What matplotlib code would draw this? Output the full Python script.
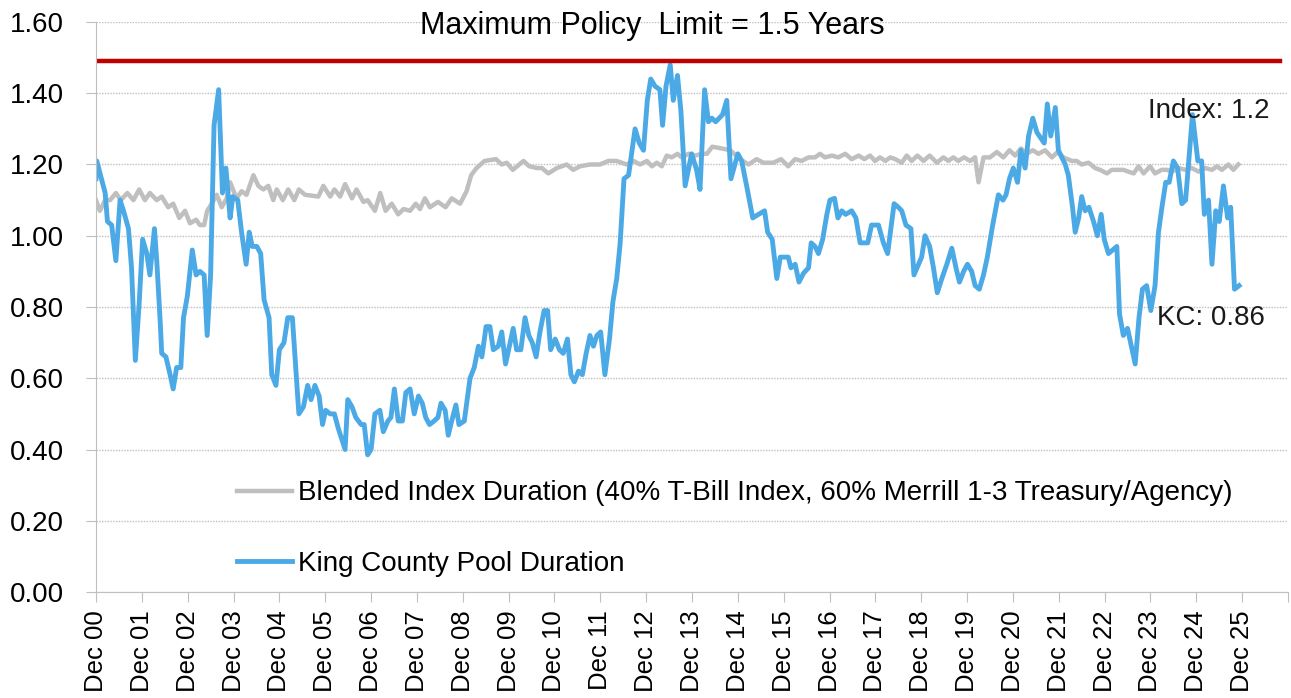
import matplotlib
matplotlib.use("Agg")
import matplotlib.pyplot as plt

# months counted from Dec 2000
kc_months = [0.0, 0.2, 2.4, 3.0, 4.1, 5.2, 6.3, 7.2, 8.5, 9.3, 10.3, 11.3, 12.2, 13.3, 14.1, 15.3, 15.9,
             16.8, 17.2, 18.3, 19.4, 20.2, 21.1, 22.2, 22.9, 23.9, 25.2, 26.2, 27.2, 28.3, 29.1, 30.0,
             30.9, 32.1, 33.1, 34.0, 35.1, 35.8, 37.1, 38.1, 39.3, 40.1, 40.9, 42.1, 43.1, 44.0, 45.3,
             46.0, 47.1, 48.0, 49.2, 50.2, 51.4, 53.1, 54.3, 55.4, 56.3, 57.3, 58.4, 59.3, 60.1, 61.3,
             62.4, 63.4, 65.2, 65.9, 67.0, 68.0, 69.4, 70.2, 71.1, 72.0, 73.0, 74.3, 75.2, 76.4, 77.2,
             78.1, 79.1, 80.2, 81.1, 82.2, 83.3, 84.4, 85.4, 86.3, 87.3, 88.5, 89.5, 90.3, 91.4, 92.2,
             93.1, 94.2, 95.0, 96.4, 97.9, 99.0, 100.1, 101.0, 102.1, 103.1, 104.0, 105.3, 106.2, 107.2,
             108.2, 109.2, 110.1, 111.2, 112.3, 113.3, 114.2, 115.2, 116.2, 117.3, 118.2, 119.0, 120.2,
             121.3, 122.3, 123.4, 124.3, 125.2, 126.3, 127.3, 128.3, 129.3, 130.2, 131.1, 132.1, 133.2,
             134.4, 135.3, 136.3, 137.2, 138.2, 139.4, 141.1, 142.2, 143.3, 144.3, 145.2, 146.3, 147.6,
             148.3, 149.2, 150.3, 151.1, 152.2, 153.1, 154.2, 155.9, 157.2, 158.1, 159.3, 160.3, 161.2,
             162.2, 164.0, 165.1, 166.2, 168.0, 169.0, 170.3, 171.9, 173.4, 175.0, 175.8, 177.0, 178.2,
             179.1, 180.4, 181.2, 181.9, 183.0, 184.0, 185.2, 186.5, 187.2, 188.2, 189.1, 190.2, 191.3,
             192.1, 193.3, 194.2, 195.2, 196.2, 197.8, 198.9, 200.0, 202.0, 203.0, 204.8, 206.1, 207.2,
             208.9, 210.0, 210.9, 212.0, 213.3, 214.1, 215.3, 216.1, 217.0, 218.2, 219.2, 220.2, 221.4,
             222.7, 224.0, 225.1, 226.0, 227.1, 228.1, 229.2, 230.1, 231.2, 232.3, 233.3, 234.7, 236.2,
             237.4, 238.2, 239.1, 240.1, 241.2, 242.1, 243.2, 244.1, 245.2, 246.3, 248.2, 249.0, 249.9,
             251.1, 251.9, 253.7, 254.5, 255.6, 256.3, 257.2, 258.0, 258.9, 259.9, 261.1, 262.1, 263.1,
             263.9, 265.0, 267.2, 267.9, 268.9, 270.0, 272.0, 273.0, 273.9, 275.0, 276.1, 277.2, 278.1,
             279.0, 280.0, 280.9, 282.0, 283.1, 284.2, 285.2, 286.1, 287.0, 288.4, 289.4, 290.1, 291.2,
             292.1, 293.1, 294.0, 295.1, 296.2, 297.0, 298.0, 299.2]
kc_duration = [1.16, 1.21, 1.12, 1.04, 1.03, 0.93, 1.10, 1.07, 1.02, 0.91, 0.65, 0.81, 0.99, 0.95, 0.89, 1.02, 0.93,
               0.76, 0.67, 0.66, 0.61, 0.57, 0.63, 0.63, 0.77, 0.83, 0.96, 0.89, 0.90, 0.89, 0.72, 0.89,
               1.31, 1.41, 1.12, 1.19, 1.05, 1.11, 1.10, 1.01, 0.92, 1.01, 0.97, 0.97, 0.95, 0.82, 0.77,
               0.61, 0.58, 0.68, 0.70, 0.77, 0.77, 0.50, 0.52, 0.58, 0.54, 0.58, 0.55, 0.47, 0.51, 0.50,
               0.50, 0.46, 0.40, 0.54, 0.52, 0.49, 0.47, 0.47, 0.385, 0.40, 0.50, 0.51, 0.45, 0.48, 0.49,
               0.57, 0.48, 0.48, 0.56, 0.57, 0.50, 0.55, 0.53, 0.49, 0.47, 0.48, 0.49, 0.53, 0.51, 0.44,
               0.48, 0.525, 0.47, 0.48, 0.60, 0.63, 0.69, 0.66, 0.745, 0.745, 0.68, 0.69, 0.73, 0.64,
               0.69, 0.74, 0.68, 0.68, 0.77, 0.72, 0.70, 0.66, 0.73, 0.79, 0.79, 0.68, 0.71,
               0.68, 0.67, 0.71, 0.61, 0.59, 0.62, 0.61, 0.67, 0.72, 0.69, 0.72, 0.73, 0.61,
               0.71, 0.815, 0.88, 0.98, 1.16, 1.17, 1.30, 1.26, 1.24, 1.38, 1.44, 1.42, 1.41,
               1.31, 1.42, 1.48, 1.38, 1.45, 1.35, 1.14, 1.23, 1.185, 1.13, 1.41, 1.32, 1.33,
               1.32, 1.34, 1.38, 1.16, 1.23, 1.21, 1.14, 1.05, 1.06, 1.07, 1.01, 0.99, 0.88,
               0.94, 0.94, 0.94, 0.91, 0.92, 0.87, 0.895, 0.91, 0.98, 0.97, 0.95, 0.99, 1.06,
               1.10, 1.105, 1.05, 1.07, 1.06, 1.07, 1.05, 0.98, 0.98, 1.03, 1.03, 0.98, 0.95,
               1.09, 1.08, 1.07, 1.03, 1.02, 0.89, 0.92, 0.94, 1.00, 0.97, 0.91, 0.84, 0.88,
               0.92, 0.965, 0.91, 0.87, 0.90, 0.92, 0.90, 0.86, 0.85, 0.89, 0.94, 1.03, 1.115,
               1.10, 1.115, 1.16, 1.19, 1.15, 1.24, 1.19, 1.28, 1.33, 1.29, 1.26, 1.37, 1.28,
               1.36, 1.24, 1.20, 1.17, 1.08, 1.01, 1.05, 1.11, 1.07, 1.08, 1.04, 1.00, 1.06,
               0.99, 0.95, 0.97, 0.78, 0.72, 0.74, 0.64, 0.77, 0.85, 0.86, 0.79, 0.86, 1.01,
               1.08, 1.15, 1.15, 1.21, 1.19, 1.09, 1.10, 1.22, 1.34, 1.21, 1.21, 1.06, 1.10,
               0.92, 1.07, 1.04, 1.14, 1.05, 1.08, 0.85, 0.86]

idx_months = [0.0, 1.0, 2.4, 3.7, 5.2, 6.5, 8.2, 9.8, 11.3, 12.8, 14.1, 15.9, 17.2, 18.9, 20.2, 21.8,
              23.3, 24.6, 26.2, 27.2, 28.3, 29.1, 30.3, 31.6, 32.9, 34.2, 35.1, 36.8, 38.1, 39.4, 41.2,
              42.5, 43.8, 45.1, 46.4, 47.3, 48.9, 50.3, 51.9, 53.1, 54.7, 58.2, 59.5, 61.3, 62.4, 63.9,
              65.2, 67.0, 68.2, 70.0, 71.1, 73.0, 74.4, 75.8, 77.4, 79.1, 80.5, 82.2, 83.7, 84.8, 86.1,
              87.4, 89.5, 91.5, 93.1, 95.3, 97.0, 98.2, 99.6, 101.7, 104.7, 106.2, 107.5, 109.1, 111.9,
              113.4, 115.4, 116.7, 118.4, 120.6, 123.2, 124.9, 126.7, 129.3, 131.9, 134.1, 136.3, 137.6,
              138.9, 140.7, 142.4, 144.2, 145.5, 146.8, 148.1, 149.4, 150.7, 152.2, 153.3, 155.1, 156.8,
              158.5, 159.9, 161.3, 163.8, 166.0, 168.6, 170.8, 172.9, 174.7, 177.3, 179.3, 181.2, 183.0,
              184.7, 186.5, 188.2, 189.5, 190.8, 192.6, 194.3, 196.1, 197.8, 199.6, 201.1, 202.6, 203.9,
              205.2, 206.6, 207.9, 209.2, 210.9, 212.2, 213.5, 215.0, 216.6, 218.2, 220.1, 221.8, 223.1,
              224.4, 225.7, 227.2, 228.8, 230.1, 231.0, 232.3, 234.0, 235.8, 237.5, 239.1, 240.6, 242.1,
              243.6, 245.2, 246.7, 248.4, 250.2, 251.7, 253.2, 255.4, 256.7, 258.0, 259.8, 261.5, 262.8,
              264.6, 265.9, 267.6, 268.9, 270.2, 271.6, 272.9, 274.2, 275.9, 277.2, 278.9, 280.3, 281.6,
              283.3, 285.1, 286.8, 288.6, 290.3, 292.1, 293.4, 294.7, 296.4, 297.7, 299.0]
idx_duration = [1.10, 1.07, 1.10, 1.10, 1.12, 1.10, 1.12, 1.10, 1.13, 1.10, 1.12, 1.10, 1.11, 1.08, 1.09, 1.05,
                1.07, 1.035, 1.045, 1.03, 1.03, 1.07, 1.09, 1.115, 1.08, 1.105, 1.15, 1.105, 1.125, 1.115, 1.17,
                1.14, 1.13, 1.14, 1.10, 1.13, 1.10, 1.13, 1.10, 1.13, 1.115, 1.11, 1.14, 1.11, 1.13, 1.11,
                1.145, 1.105, 1.13, 1.095, 1.10, 1.07, 1.12, 1.07, 1.09, 1.06, 1.075, 1.07, 1.09, 1.075, 1.105,
                1.08, 1.095, 1.08, 1.105, 1.09, 1.125, 1.17, 1.19, 1.21, 1.215, 1.20, 1.205, 1.185, 1.21,
                1.195, 1.19, 1.19, 1.175, 1.19, 1.20, 1.185, 1.195, 1.20, 1.20, 1.21, 1.21, 1.205,
                1.20, 1.21, 1.20, 1.21, 1.195, 1.205, 1.195, 1.225, 1.22, 1.23, 1.22, 1.23, 1.225,
                1.23, 1.23, 1.25, 1.245, 1.24, 1.215, 1.20, 1.215, 1.205, 1.205, 1.215, 1.195, 1.215,
                1.21, 1.22, 1.22, 1.23, 1.22, 1.225, 1.22, 1.23, 1.215, 1.225, 1.215, 1.225, 1.21,
                1.22, 1.21, 1.22, 1.215, 1.205, 1.225, 1.21, 1.225, 1.21, 1.225, 1.205, 1.22, 1.21,
                1.22, 1.21, 1.22, 1.21, 1.22, 1.15, 1.22, 1.22, 1.235, 1.22, 1.24, 1.225, 1.245,
                1.23, 1.24, 1.23, 1.24, 1.22, 1.235, 1.22, 1.21, 1.21, 1.20, 1.205, 1.19, 1.185,
                1.175, 1.185, 1.185, 1.185, 1.18, 1.175, 1.195, 1.175, 1.195, 1.175, 1.185, 1.185, 1.18,
                1.19, 1.185, 1.19, 1.18, 1.19, 1.185, 1.195, 1.185, 1.20, 1.185, 1.20]

year_labels = ["Dec %02d" % y for y in range(0, 26)] + [""]
policy_limit_y = 1.49   # where the limit line sits in the picture
policy_line_end = 310

plt.rcParams['font.family'] = ['Liberation Sans', 'DejaVu Sans']

fig = plt.figure(figsize=(12.91, 6.98), dpi=100)
ax = fig.add_axes([96 / 1291, 1 - 592 / 698, (1288 - 96) / 1291, (592 - 22) / 698])

ax.plot(idx_months, idx_duration, color='#BFBFBF', lw=3.2,
        label='Blended Index Duration (40% T-Bill Index, 60% Merrill 1-3 Treasury/Agency)')
ax.plot(kc_months, kc_duration, color='#4BA9E6', lw=3.5, label='King County Pool Duration')
ax.plot([0, policy_line_end], [policy_limit_y, policy_limit_y], color='#C00000', lw=3.2)

ax.set_xlim(0, 312)
ax.set_ylim(0, 1.6)
ax.set_xticks(range(0, 313, 12))
ax.set_xticklabels(year_labels, rotation=90, fontsize=18.5)
ax.set_yticks([i * 0.2 for i in range(9)])
ax.set_yticklabels(["%.2f" % (i * 0.2) for i in range(9)], fontsize=20)

ax.yaxis.grid(True, color='#BFBFBF', linestyle=(0, (1, 1)), lw=1)
ax.set_axisbelow(True)
for s in ['top', 'right']:
    ax.spines[s].set_visible(False)
for s in ['left', 'bottom']:
    ax.spines[s].set_color('#BFBFBF')
    ax.spines[s].set_linestyle((0, (1, 1)))
ax.tick_params(axis='x', length=7, color='#BFBFBF', pad=6)
ax.tick_params(axis='y', length=7, color='#BFBFBF', pad=16)

ax.text(145.5, 1.59, 'Maximum Policy  Limit = 1.5 Years', fontsize=22, ha='center', va='center')
ax.text(275.4, 1.35, 'Index: 1.2', fontsize=20, ha='left', va='center', color='#1a1a1a')
ax.text(277.7, 0.77, 'KC: 0.86', fontsize=20, ha='left', va='center', color='#1a1a1a')

ax.legend(loc='upper left', bbox_to_anchor=(0.118, 0.196), frameon=False, fontsize=20,
          borderpad=0, borderaxespad=0, handlelength=2.0, handletextpad=0.2, labelspacing=1.6)

fig.savefig('out.png', dpi=100)
